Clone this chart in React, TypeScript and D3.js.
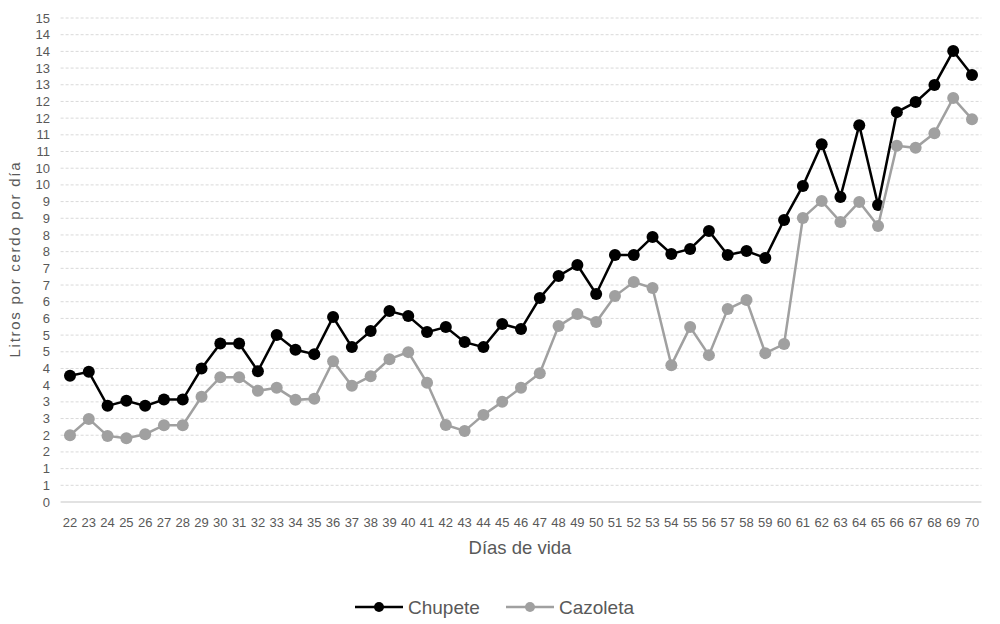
import React from "react";
import * as d3 from "d3";

const days = d3.range(22, 71).map(String);
const chupete = [3.78, 3.9, 2.88, 3.03, 2.88, 3.07, 3.07, 4.0, 4.75, 4.75, 3.92, 5.0, 4.56, 4.43, 5.54, 4.64, 5.12, 5.72, 5.57, 5.09, 5.24, 4.79, 4.64, 5.33, 5.18, 6.11, 6.77, 7.1, 6.23, 7.4, 7.4, 7.94, 7.43, 7.58, 8.12, 7.4, 7.52, 7.31, 8.45, 9.47, 10.72, 9.14, 11.29, 8.9, 11.68, 11.98, 12.49, 13.51, 12.79];
const cazoleta = [2.0, 2.49, 1.98, 1.91, 2.03, 2.3, 2.3, 3.15, 3.74, 3.74, 3.33, 3.42, 3.06, 3.09, 4.22, 3.48, 3.77, 4.28, 4.49, 3.57, 2.31, 2.13, 2.61, 3.0, 3.42, 3.86, 5.27, 5.63, 5.39, 6.17, 6.59, 6.41, 4.1, 5.24, 4.4, 5.78, 6.05, 4.46, 4.73, 8.51, 9.02, 8.39, 8.99, 8.27, 10.67, 10.61, 11.05, 12.1, 11.47];
const yTicks = d3.range(0, 14.51, 0.5);
const seriesNames = ["Chupete", "Cazoleta"];
const seriesColors = ["#000000", "#a0a0a0"];

export default function App() {
  const W = 1000, H = 624;
  const left = 60.6, right = 981.4, top = 18, bottom = 502;
  const x = d3.scaleBand().domain(days).range([left, right]);
  const y = d3.scaleLinear().domain([0, 14.5]).range([bottom, top]);
  const cx = (d: string) => (x(d) as number) + x.bandwidth() / 2;
  const line = d3.line<number>().x((_, i) => cx(days[i])).y((v) => y(v));
  const font = "'Liberation Sans', Arial, sans-serif";
  const data = [chupete, cazoleta];
  const fmt = (v: number) => String(Math.floor(v + 0.5));
  const legendX = [355, 506];
  return (
    <svg width={W} height={H} style={{ position: "absolute", left: 0, top: 0, background: "#fff" }} fontFamily={font}>
      {yTicks.map((t, i) => (
        <g key={i}>
          {t > 0 && (
            <line x1={left} x2={right} y1={y(t)} y2={y(t)} stroke="#d9d9d9" strokeWidth={1} strokeDasharray="3,2" />
          )}
          <text x={50} y={y(t)} dy="0.35em" textAnchor="end" fontSize={13} fill="#595959">{fmt(t)}</text>
        </g>
      ))}
      <line x1={left} x2={right} y1={bottom} y2={bottom} stroke="#d9d9d9" strokeWidth={1.5} />
      {days.map((d) => (
        <text key={d} x={cx(d)} y={522} dy="0.35em" textAnchor="middle" fontSize={13} fill="#595959">{d}</text>
      ))}
      <text x={520} y={548} dy="0.35em" textAnchor="middle" fontSize={18.5} fill="#595959">Días de vida</text>
      <text transform={`translate(15,260) rotate(-90)`} dy="0.35em" textAnchor="middle" fontSize={15} fill="#595959" textLength={195} lengthAdjust="spacing">Litros por cerdo por día</text>
      {data.map((s, k) => (
        <g key={k}>
          <path d={line(s) as string} fill="none" stroke={seriesColors[k]} strokeWidth={2.5} />
          {s.map((v, i) => (
            <circle key={i} cx={cx(days[i])} cy={y(v)} r={6} fill={seriesColors[k]} />
          ))}
        </g>
      ))}
      {seriesNames.map((n, k) => {
        const lx = legendX[k];
        return (
          <g key={n}>
            <line x1={lx} x2={lx + 48} y1={607} y2={607} stroke={seriesColors[k]} strokeWidth={2.5} />
            <circle cx={lx + 24} cy={607} r={5} fill={seriesColors[k]} />
            <text x={lx + 53} y={607} dy="0.35em" fontSize={19} fill="#595959">{n}</text>
          </g>
        );
      })}
    </svg>
  );
}
